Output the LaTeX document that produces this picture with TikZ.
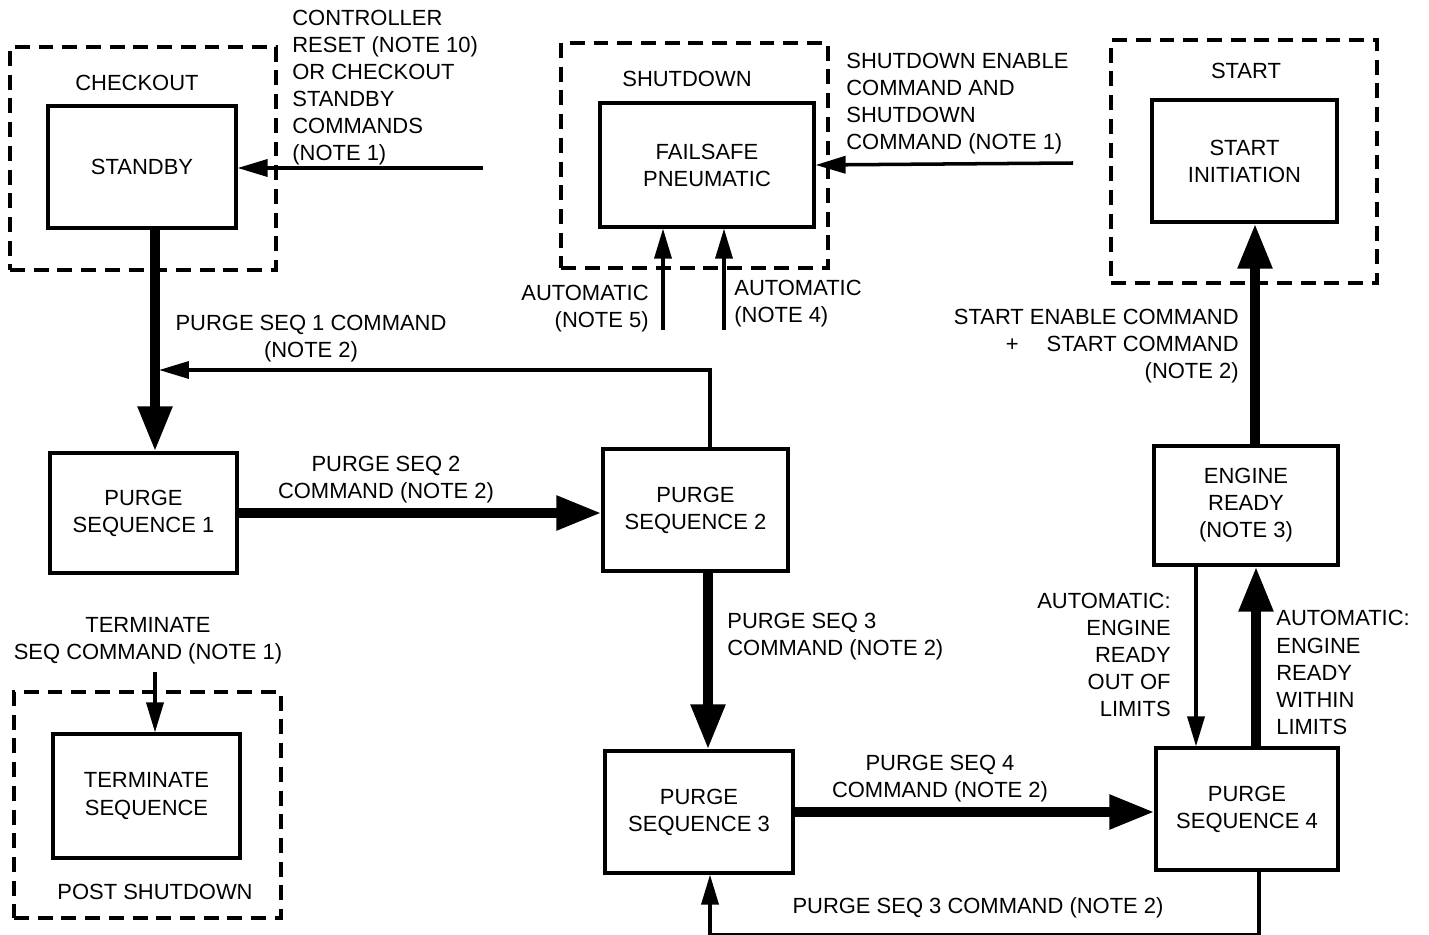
\documentclass[tikz,border=0pt]{standalone}
\usepackage{fontspec}
\setmainfont{Liberation Sans}
\usetikzlibrary{arrows.meta,positioning,calc}

\begin{document}
\begin{tikzpicture}[
  x=0.02cm, y=-0.02cm,
  font=\fontsize{12.5}{15.4}\selectfont,
  sz/.style 2 args = {minimum width=#1*0.02cm, minimum height=#2*0.02cm},
  state/.style = {draw, line width=1.8pt, align=center, inner sep=0pt},
  frame/.style = {draw, line width=1.8pt, dash pattern=on 8.5pt off 5pt, inner sep=0pt},
  lbl/.style   = {align=center, inner sep=0pt},
  thinarr/.style  = {-{Triangle[length=6mm, width=3.4mm]}, line width=2pt},
  thickarr/.style = {-{Triangle[length=9mm, width=6.5mm]}, line width=5.5pt},
]
\useasboundingbox (0,0) rectangle (1429,935);

% --- the mode frames -----------------------------------------------------------------------------
\node[frame, sz={266}{223}] (checkout) at (143,158.5) {};
\node[frame, sz={267}{225}] (shutdown) at (694.5,155.5) {};
\node[frame, sz={266}{243}] (start)    at (1244,161.5) {};
\node[frame, sz={267}{226}] (post)     at (147.5,805) {};
\node[lbl] at (137,83)  {CHECKOUT};
\node[lbl] at (687,79)  {SHUTDOWN};
\node[lbl] at (1246,71) {START};
\node[lbl] at (155,892) {POST SHUTDOWN};

% --- the states ----------------------------------------------------------------------------------
\node[state, sz={188}{122}] (standby)   at (142,167)     {STANDBY};
\node[state, sz={214}{124}] (failsafe)  at (707,165)     {FAILSAFE\\PNEUMATIC};
\node[state, sz={185}{122}] (startinit) at (1244.5,161)  {START\\INITIATION};
\node[state, sz={184}{119}] (engready)  at (1246,505.5)  {ENGINE\\READY\\(NOTE 3)};
\node[state, sz={187}{120}] (ps1)       at (143.5,513)   {PURGE\\SEQUENCE 1};
\node[state, sz={185}{122}] (ps2)       at (695.5,510)   {PURGE\\SEQUENCE 2};
\node[state, sz={188}{122}] (ps3)       at (699,812)     {PURGE\\SEQUENCE 3};
\node[state, sz={182}{122}] (ps4)       at (1247,809)    {PURGE\\SEQUENCE 4};
\node[state, sz={187}{124}] (terminate) at (146.5,796)   {TERMINATE\\SEQUENCE};

% --- commands coming in from outside -------------------------------------------------------------
\coordinate (resetin) at (483,168);
\draw[thinarr] (resetin) -- (resetin -| standby.east);
\node[lbl, align=left, anchor=west] at (292,87.5)
  {CONTROLLER\\RESET (NOTE 10)\\OR CHECKOUT\\STANDBY\\COMMANDS\\(NOTE 1)};

\coordinate (shutin) at (1073,163);
\draw[thinarr] (shutin) -- (failsafe.east);
\node[lbl, align=left, anchor=west] at (846,103.5)
  {SHUTDOWN ENABLE\\COMMAND AND\\SHUTDOWN\\COMMAND (NOTE 1)};

\coordinate (auto5) at (663,330);
\coordinate (auto4) at (724,330);
\draw[thinarr] (auto5) -- (auto5 |- failsafe.south);
\draw[thinarr] (auto4) -- (auto4 |- failsafe.south);
\node[lbl, align=right, anchor=east] at (649,308.5) {AUTOMATIC\\(NOTE 5)};
\node[lbl, align=left, anchor=west]  at (734,303.5) {AUTOMATIC\\(NOTE 4)};

\coordinate (termin) at (155,672);
\draw[thinarr] (termin) -- (termin |- terminate.north);
\node[lbl] at (148,641) {TERMINATE\\SEQ COMMAND (NOTE 1)};

% --- the purge sequence --------------------------------------------------------------------------
\draw[thickarr] ($(standby.south)+(13,0)$) coordinate (d1) -- (d1 |- ps1.north);
\node[lbl] at (311,338.5) {PURGE SEQ 1 COMMAND\\(NOTE 2)};

\coordinate (seq1join) at (159,370);
\draw[thinarr] ($(ps2.north)+(14.5,0)$) |- (seq1join);

\draw[thickarr] (ps1.east) -- (ps1.east -| ps2.west);
\node[lbl] at (386,479.5) {PURGE SEQ 2\\COMMAND (NOTE 2)};

\draw[thickarr] ($(ps2.south)+(12.5,0)$) coordinate (d2) -- (d2 |- ps3.north);
\node[lbl, align=left, anchor=west] at (727,636.5) {PURGE SEQ 3\\COMMAND (NOTE 2)};

\draw[thickarr] (ps3.east) -- (ps3.east -| ps4.west);
\node[lbl] at (940,778.5) {PURGE SEQ 4\\COMMAND (NOTE 2)};

\draw[thinarr] ($(ps4.south)+(12,0)$) -- ++(0,63) -| ($(ps3.south)+(11,0)$);
\node[lbl] at (978,908) {PURGE SEQ 3 COMMAND (NOTE 2)};

% --- engine ready and start ----------------------------------------------------------------------
\draw[thinarr] ($(engready.south)+(-50,0)$) coordinate (d3) -- (d3 |- ps4.north);
\node[lbl, align=right, anchor=east] at (1171,655)
  {AUTOMATIC:\\ENGINE\\READY\\OUT OF\\LIMITS};

\draw[thickarr] ($(ps4.north)+(9,0)$) coordinate (u1) -- (u1 |- engready.south);
\node[lbl, align=left, anchor=west] at (1276,672.5)
  {AUTOMATIC:\\ENGINE\\READY\\WITHIN\\LIMITS};

\draw[thickarr] ($(engready.north)+(9,0)$) coordinate (u2) -- (u2 |- startinit.south);
\node[lbl, align=right, anchor=east] at (1239,346.5)
  {START ENABLE COMMAND\\+\hspace{16pt}START COMMAND\\(NOTE 2)};

\end{tikzpicture}
\end{document}
